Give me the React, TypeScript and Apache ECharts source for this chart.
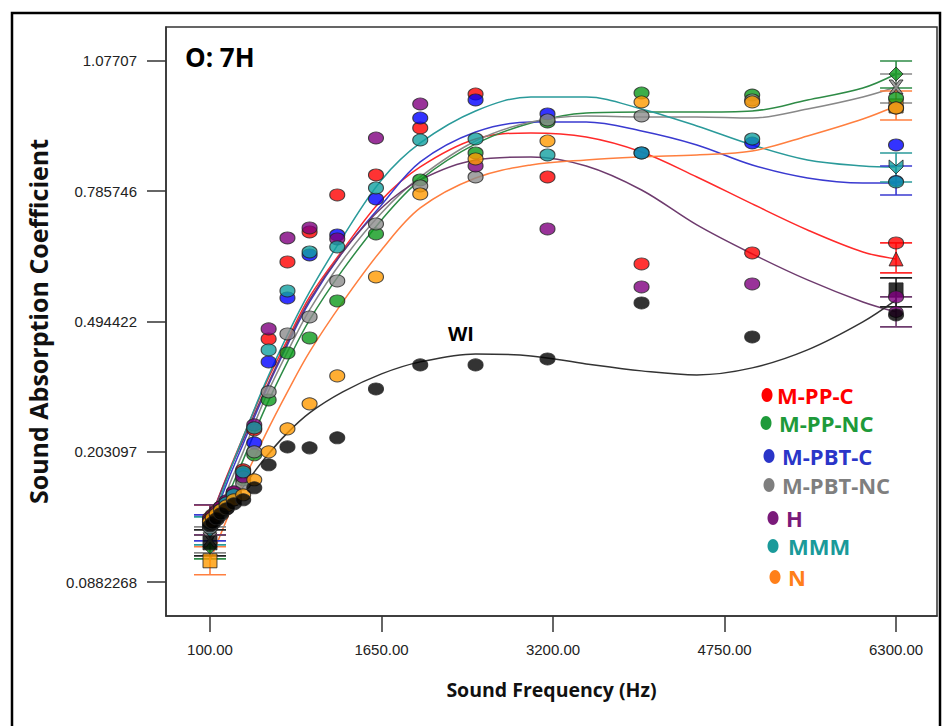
import React, { useEffect, useRef } from 'react';
import * as echarts from 'echarts';

// Measured frequencies (Hz)
const freqs = [100, 125, 160, 200, 250, 315, 400, 500, 630, 800, 1000, 1250, 1600, 2000, 2500, 3150, 4000, 5000, 6300];
// Frequencies at which the fitted model curves were read
const fitFreqs = [100, 250, 400, 600, 800, 1000, 1300, 1650, 2000, 2500, 3000, 3500, 4000, 4500, 5000, 5500, 6000, 6300];
// Frequencies carrying the prediction markers with error bars
const endFreqs = [100, 6300];

const xTicks = [100, 1650, 3200, 4750, 6300];
const yTicks = [-0.0882268, 0.203097, 0.494422, 0.785746, 1.07707];
const yTickLabels = ['0.0882268', '0.203097', '0.494422', '0.785746', '1.07707'];

// M-PP-C
const mppcPts = [0.0553, 0.062, 0.071, 0.0799, 0.0911, 0.1112, 0.1626, 0.2521, 0.4555, 0.6277, 0.6947, 0.7775, 0.8222, 0.9273, 1.0033, 0.8177, 0.6232, 0.6478, 0.6702];
const mppcFit = [0.0508, 0.147, 0.2364, 0.3527, 0.4533, 0.5494, 0.6545, 0.7663, 0.8401, 0.9027, 0.9161, 0.9071, 0.8736, 0.8177, 0.7574, 0.6992, 0.65, 0.6344];
const mppcEnds = [[0.0173, 0.0844, 0.0508], [0.6031, 0.6702, 0.6344]]; // [low, high, predicted]

// M-PP-NC
const mppncPts = [0.0397, 0.0486, 0.0575, 0.0687, 0.0821, 0.1, 0.1403, 0.1962, 0.3191, 0.4242, 0.4577, 0.5405, 0.6903, 0.811, 0.8714, 0.9407, 1.0055, 1.001, 0.9943];
const mppncFit = [-0.0095, 0.0956, 0.185, 0.3012, 0.4041, 0.498, 0.6098, 0.7216, 0.811, 0.8915, 0.9384, 0.9608, 0.963, 0.963, 0.9653, 0.9899, 1.0167, 1.048];
const mppncEnds = [[-0.0364, 0.0173, -0.0095], [1.0167, 1.0771, 1.048]];

// M-PBT-C
const mpbtcPts = [0.0464, 0.0553, 0.0643, 0.0754, 0.0888, 0.1067, 0.1537, 0.223, 0.4041, 0.5472, 0.6433, 0.688, 0.7685, 0.9496, 0.9899, 0.9586, 0.8714, 0.8937, 0.8893];
const mpbtcFit = [0.0329, 0.1313, 0.2208, 0.337, 0.4421, 0.5382, 0.65, 0.7551, 0.8513, 0.9183, 0.9407, 0.9407, 0.9206, 0.8893, 0.8445, 0.8155, 0.8043, 0.8043];
const mpbtcEnds = [[0.0039, 0.062, 0.0329], [0.7775, 0.8423, 0.8088]];

// M-PBT-NC
const mpbtncPts = [0.0329, 0.0419, 0.0508, 0.062, 0.0754, 0.0956, 0.1313, 0.2029, 0.337, 0.4667, 0.5047, 0.5852, 0.7126, 0.7976, 0.8177, 0.9452, 0.9541, 0.9899, 0.972];
const mpbtncFit = [0.0061, 0.1134, 0.2029, 0.3236, 0.4264, 0.5204, 0.6321, 0.7372, 0.8177, 0.8982, 0.9407, 0.9541, 0.9519, 0.9519, 0.9496, 0.9697, 0.9966, 1.0189];
const mpbtncEnds = [[-0.023, 0.0352, 0.0061], [0.9832, 1.048, 1.0189]];

// H
const hPts = [0.0508, 0.0598, 0.0687, 0.0799, 0.0933, 0.1134, 0.147, 0.2632, 0.4779, 0.6813, 0.7037, 0.6791, 0.9049, 0.9809, 0.8423, 0.7015, 0.5718, 0.5785, 0.5494];
const hFit = [0.0508, 0.1447, 0.2297, 0.3415, 0.4466, 0.5427, 0.65, 0.7484, 0.811, 0.8557, 0.8624, 0.8423, 0.7886, 0.7104, 0.6456, 0.5874, 0.5382, 0.5159];
const hEnds = [[0.0173, 0.0844, 0.0508], [0.4823, 0.5494, 0.5159]];

// MMM
const mmmPts = [0.0441, 0.0531, 0.062, 0.0732, 0.0888, 0.1067, 0.1582, 0.2565, 0.4309, 0.5628, 0.65, 0.6612, 0.7931, 0.9004, 0.9027, 0.8669, 0.8714, 0.9027, 0.8065];
const mmmFit = [0.0285, 0.1403, 0.2364, 0.3571, 0.4645, 0.5606, 0.6836, 0.811, 0.8937, 0.9653, 0.9966, 0.9966, 0.9697, 0.9317, 0.8893, 0.8557, 0.8423, 0.8401];
const mmmEnds = [[-0.0051, 0.0575, 0.0285], [0.8065, 0.8714, 0.8401]];

// N
const nPts = [0.0464, 0.0553, 0.0643, 0.0732, 0.0821, 0.0956, 0.1067, 0.1403, 0.2029, 0.2543, 0.3102, 0.3728, 0.5941, 0.7797, 0.858, 0.8982, 0.9854, 0.9854, 0.972];
const nFit = [-0.0408, 0.0508, 0.1358, 0.2409, 0.337, 0.4264, 0.5382, 0.6545, 0.7484, 0.8155, 0.8445, 0.8557, 0.8624, 0.8669, 0.8758, 0.9094, 0.9474, 0.9765];
const nEnds = [[-0.0721, -0.0095, -0.0408], [0.9452, 1.01, 0.9765]];

// WI
const wiPts = [0.0374, 0.0441, 0.0531, 0.0643, 0.0754, 0.0866, 0.0956, 0.1224, 0.1738, 0.214, 0.2118, 0.2342, 0.3437, 0.3974, 0.3974, 0.4108, 0.536, 0.46, 0.5092];
const wiFit = [-0.0006, 0.0732, 0.1246, 0.1895, 0.2453, 0.2901, 0.337, 0.3773, 0.4041, 0.422, 0.4175, 0.3996, 0.384, 0.375, 0.3907, 0.4309, 0.4935, 0.5427];
const wiEnds = [[-0.0297, 0.0285, -0.0006], [0.5271, 0.5919, 0.5651]];

const legendNames = ['M-PP-C', 'M-PP-NC', 'M-PBT-C', 'M-PBT-NC', 'H', 'MMM', 'N'];

const X_PATH = 'path://M0,0L3,0L6,4L9,0L12,0L7.5,6L12,12L9,12L6,8L3,12L0,12L4.5,6Z';
const CHEVRON_PATH = 'path://M0,0L6,5L12,0L12,6L6,12L0,6Z';

const groups = [
  { name: 'M-PP-C', color: '#ff0000', line: '#ff2a2a', legend: '#ff0000', pts: mppcPts, fit: mppcFit, ends: mppcEnds, symbol: 'triangle' },
  { name: 'M-PP-NC', color: '#0c9a1c', line: '#2e8b46', legend: '#1e9a3a', pts: mppncPts, fit: mppncFit, ends: mppncEnds, symbol: 'diamond' },
  { name: 'M-PBT-C', color: '#0000ff', line: '#3a3ad0', legend: '#2a35c8', pts: mpbtcPts, fit: mpbtcFit, ends: mpbtcEnds, symbol: 'circle' },
  { name: 'M-PBT-NC', color: '#8c8c8c', line: '#888888', legend: '#7f7f7f', pts: mpbtncPts, fit: mpbtncFit, ends: mpbtncEnds, symbol: X_PATH },
  { name: 'H', color: '#800080', line: '#6e3b6e', legend: '#7a1a7a', pts: hPts, fit: hFit, ends: hEnds, symbol: 'circle' },
  { name: 'MMM', color: '#12a0a0', line: '#2a9a9a', legend: '#1a9a9a', pts: mmmPts, fit: mmmFit, ends: mmmEnds, symbol: CHEVRON_PATH },
  { name: 'N', color: '#ff9a00', line: '#ff7f3f', legend: '#ff7f1a', pts: nPts, fit: nFit, ends: nEnds, symbol: 'rect' },
  { name: 'WI', color: '#000000', line: '#333333', legend: '#000000', pts: wiPts, fit: wiFit, ends: wiEnds, symbol: 'rect' },
];

const legendRows = [
  { dx: 767, tx: 777, y: 395 },
  { dx: 766, tx: 779, y: 423 },
  { dx: 769, tx: 782, y: 456 },
  { dx: 769, tx: 782, y: 485 },
  { dx: 773, tx: 786, y: 518 },
  { dx: 773, tx: 788, y: 546 },
  { dx: 775, tx: 788, y: 577 },
];

const TITLE_FONT = '"Open Sans", "DejaVu Sans", sans-serif';
const TICK_FONT = '"Liberation Sans", Arial, sans-serif';

export default function App() {
  const ref = useRef<HTMLDivElement>(null);
  useEffect(() => {
    if (!ref.current) return;
    const chart = echarts.init(ref.current, undefined, { renderer: 'svg' });

    const series: any[] = [];
    groups.forEach((g) => {
      series.push({
        name: g.name + ' fit',
        type: 'line',
        data: fitFreqs.map((f, i) => [f, g.fit[i]]),
        smooth: 0.35,
        showSymbol: false,
        lineStyle: { color: g.line, width: 1.5 },
        z: 2,
        silent: true,
      });
      series.push({
        name: g.name + ' error',
        type: 'custom',
        data: endFreqs.map((f, i) => [f, g.ends[i][0], g.ends[i][1]]),
        encode: { x: 0, y: [1, 2] },
        renderItem: (params: any, api: any) => {
          const x = api.value(0);
          const lo = api.coord([x, api.value(1)]);
          const hi = api.coord([x, api.value(2)]);
          const hw = 16;
          const st = { stroke: g.line === '#333333' ? '#222222' : g.line, lineWidth: 1.6 };
          return {
            type: 'group',
            children: [
              { type: 'line', shape: { x1: lo[0], y1: lo[1], x2: hi[0], y2: hi[1] }, style: st },
              { type: 'line', shape: { x1: lo[0] - hw, y1: lo[1], x2: lo[0] + hw, y2: lo[1] }, style: st },
              { type: 'line', shape: { x1: hi[0] - hw, y1: hi[1], x2: hi[0] + hw, y2: hi[1] }, style: st },
            ],
          };
        },
        z: 3,
        silent: true,
      });
      series.push({
        name: g.name + ' predicted',
        type: 'scatter',
        data: endFreqs.map((f, i) => [f, g.ends[i][2]]),
        symbol: g.symbol,
        symbolSize: g.symbol === 'circle' ? [14, 11] : 14,
        itemStyle: { color: g.color, borderColor: '#222', borderWidth: 1 },
        z: 4,
        silent: true,
      });
      series.push({
        name: g.name,
        type: 'scatter',
        data: freqs.map((f, i) => [f, g.pts[i]]),
        symbol: 'circle',
        symbolSize: [15, 12],
        itemStyle: { color: g.color, borderColor: '#222', borderWidth: 1 },
        z: 5,
        silent: true,
      });
    });

    const graphic: any[] = [
      {
        type: 'rect',
        shape: { x: 12, y: 13, width: 928, height: 740 },
        style: { fill: 'none', stroke: '#000', lineWidth: 2.5 },
        silent: true,
        z: 100,
      },
      {
        type: 'text',
        x: 185,
        y: 57,
        style: { text: 'O: 7H', fontFamily: TITLE_FONT, fontWeight: 'bold', fontSize: 26, fill: '#000', verticalAlign: 'middle', align: 'left' },
        z: 100,
      },
      {
        type: 'text',
        x: 461,
        y: 333,
        style: { text: 'WI', fontFamily: TITLE_FONT, fontWeight: 'bold', fontSize: 20, fill: '#000', verticalAlign: 'middle', align: 'center' },
        z: 100,
      },
    ];
    legendRows.forEach((r, i) => {
      const g = groups[i];
      graphic.push({
        type: 'ellipse',
        shape: { cx: r.dx, cy: r.y, rx: 5.5, ry: 7 },
        style: { fill: g.legend },
        z: 100,
      });
      graphic.push({
        type: 'text',
        x: r.tx,
        y: r.y,
        style: { text: legendNames[i], fontFamily: TITLE_FONT, fontWeight: 'bold', fontSize: 22, fill: g.legend, verticalAlign: 'middle', align: 'left' },
        z: 100,
      });
    });

    chart.setOption({
      animation: false,
      backgroundColor: '#ffffff',
      grid: { left: 166, top: 27, width: 771, height: 589, show: true, borderColor: '#333', borderWidth: 1.5, backgroundColor: 'transparent' },
      xAxis: {
        type: 'value',
        min: -297.6,
        max: 6670,
        name: 'Sound Frequency (Hz)',
        nameLocation: 'middle',
        nameGap: 63,
        nameTextStyle: { fontFamily: TITLE_FONT, fontWeight: 'bold', fontSize: 19.5, color: '#111' },
        axisLine: { show: true, onZero: false, lineStyle: { color: '#333', width: 1.5 } },
        axisTick: { show: true, length: 16, customValues: xTicks, lineStyle: { color: '#333', width: 1.5 } },
        axisLabel: { customValues: xTicks, formatter: (v: number) => v.toFixed(2), margin: 26, fontFamily: TICK_FONT, fontSize: 15, color: '#222' },
        splitLine: { show: false },
      },
      yAxis: {
        type: 'value',
        min: -0.1642268,
        max: 1.15307,
        name: 'Sound Absorption Coefficient',
        nameLocation: 'middle',
        nameGap: 116,
        nameTextStyle: { fontFamily: TITLE_FONT, fontWeight: 'bold', fontSize: 25, color: '#111' },
        axisLine: { show: true, onZero: false, lineStyle: { color: '#333', width: 1.5 } },
        axisTick: { show: true, length: 19, customValues: yTicks, lineStyle: { color: '#333', width: 1.5 } },
        axisLabel: {
          customValues: yTicks,
          formatter: (v: number) => {
            let best = 0;
            yTicks.forEach((t, i) => { if (Math.abs(t - v) < Math.abs(yTicks[best] - v)) best = i; });
            return yTickLabels[best];
          },
          margin: 29,
          fontFamily: TICK_FONT,
          fontSize: 15,
          color: '#222',
        },
        splitLine: { show: false },
      },
      series,
      graphic,
    });
    return () => chart.dispose();
  }, []);
  return <div ref={ref} style={{ position: 'absolute', left: 0, top: 0, width: 944, height: 726, background: '#fff' }} />;
}
